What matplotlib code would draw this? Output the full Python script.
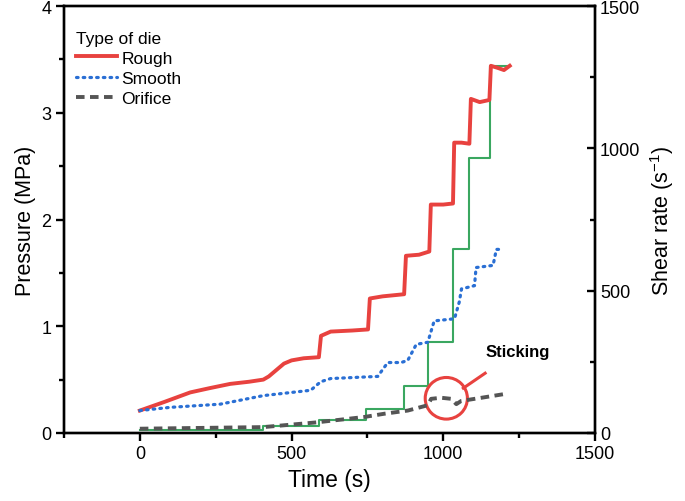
import matplotlib.pyplot as plt
from matplotlib.patches import Ellipse

plt.rcParams['font.family'] = ['Liberation Sans', 'DejaVu Sans']

# Rough die pressure (MPa)
rough_t = [0, 80, 166, 230, 298, 360, 407, 425, 450, 475, 500, 540, 590, 597, 629, 700, 752,
           758, 800, 871, 877, 920, 954, 959, 1000, 1032, 1036, 1060, 1086, 1091, 1120, 1152,
           1157, 1180, 1200, 1219]
rough_p = [0.21, 0.29, 0.38, 0.42, 0.46, 0.48, 0.50, 0.53, 0.59, 0.65, 0.68, 0.70, 0.71, 0.91,
           0.95, 0.96, 0.97, 1.26, 1.28, 1.30, 1.66, 1.67, 1.70, 2.14, 2.14, 2.15, 2.72, 2.72,
           2.71, 3.13, 3.10, 3.12, 3.44, 3.42, 3.40, 3.44]

# Smooth die pressure (MPa)
smooth_t = [0, 100, 265, 407, 563, 596, 629, 784, 817, 861, 883, 911, 949, 970, 1037, 1053,
            1060, 1103, 1108, 1164, 1175, 1192]
smooth_p = [0.21, 0.24, 0.27, 0.35, 0.40, 0.48, 0.51, 0.53, 0.66, 0.66, 0.68, 0.83, 0.85, 1.05,
            1.07, 1.23, 1.35, 1.38, 1.55, 1.57, 1.72, 1.72]

# Orifice pressure (MPa)
orifice_t = [0, 407, 585, 740, 805, 883, 949, 960, 993, 1026, 1043, 1059, 1126, 1202]
orifice_p = [0.04, 0.055, 0.10, 0.15, 0.18, 0.21, 0.26, 0.32, 0.33, 0.32, 0.27, 0.30, 0.33, 0.365]

# Shear rate steps (1/s)
shear_t = [0, 407, 590, 745, 871, 949, 1032, 1084, 1153, 1220]
shear_r = [12, 26, 47, 84, 164, 318, 646, 965, 1288, 1288]

fig = plt.figure(figsize=(6.85, 5.02), dpi=100)
ax = fig.add_axes([0.0934, 0.1355, 0.7752, 0.8505])
ax2 = ax.twinx()

ax2.step(shear_t, shear_r, where='post', color='#3aa760', lw=1.5, zorder=1)
ax.set_zorder(ax2.get_zorder() + 1)
ax.patch.set_visible(False)

ax.plot(rough_t, rough_p, color='#e8423f', lw=2.8, label='Rough')
ax.plot(smooth_t, smooth_p, color='#2a6fd4', lw=2.3, ls=(0, (0.5, 1.6)),
        dash_capstyle='round', label='Smooth')
ax.plot(orifice_t, orifice_p, color='#555555', lw=2.8, ls=(0, (2.2, 1.4)), label='Orifice')

ax.add_patch(Ellipse((1010, 0.325), 139, 0.39, fill=False, ec='#e8423f', lw=2.2))
ax.plot([1066, 1138], [0.42, 0.56], color='#e8423f', lw=2.2)
ax.text(1140, 0.76, 'Sticking', fontsize=12, fontweight='bold', va='center')

ax.set_xlim(-250, 1500)
ax.set_ylim(0, 4)
ax2.set_ylim(0, 1500)
ax.set_xticks([0, 500, 1000, 1500])
ax.set_xticks([-250, 250, 750, 1250], minor=True)
ax.set_yticks([0, 1, 2, 3, 4])
ax.set_yticks([0.5, 1.5, 2.5, 3.5], minor=True)
ax2.set_yticks([0, 500, 1000, 1500])
ax2.set_yticks([250, 750, 1250], minor=True)

ax.tick_params(which='major', direction='out', length=5.5, width=1.7, labelsize=13)
ax.tick_params(which='minor', direction='out', length=3.5, width=1.7)
ax2.tick_params(which='major', direction='in', length=5.5, width=1.7, labelsize=13)
ax2.tick_params(which='minor', direction='in', length=3.5, width=1.7)
for a in (ax, ax2):
    for s in a.spines.values():
        s.set_linewidth(1.7)

ax.set_xlabel('Time (s)', fontsize=16.5)
ax.set_ylabel('Pressure (MPa)', fontsize=15.5)
ax2.set_ylabel('Shear rate (s$^{\\mathregular{-1}}$)', fontsize=15.5, labelpad=6)

leg = ax.legend(title='Type of die', loc='upper left', frameon=False, fontsize=12.5,
                title_fontsize=12.5, handlelength=2.35, handletextpad=0.25,
                labelspacing=0.28, borderaxespad=0.3, bbox_to_anchor=(0.0, 0.971))
leg._legend_box.align = 'left'

fig.savefig('out.png', dpi=100)
